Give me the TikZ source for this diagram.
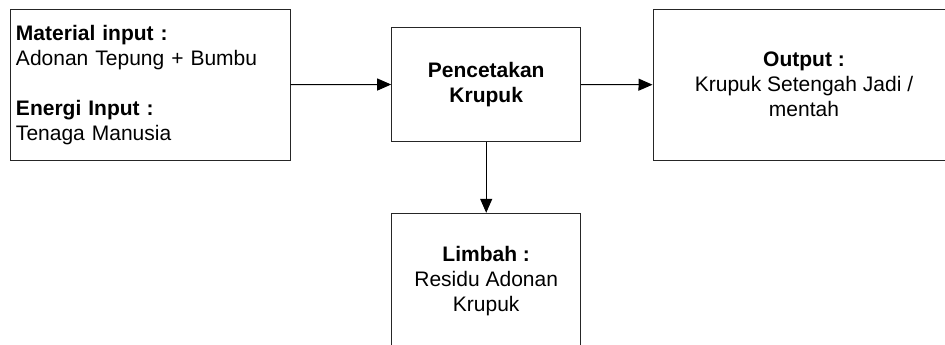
\documentclass[tikz,border=0pt]{standalone}
\usepackage{fontspec}
\setmainfont{Liberation Sans}
\usetikzlibrary{arrows.meta}
\begin{document}
\begin{tikzpicture}[x=1pt,y=-1pt,
  box/.style={draw=black!85, line width=1pt, rectangle, inner sep=0pt,
    font=\fontsize{21}{25}\selectfont},
  arr/.style={draw=black, line width=1pt, -{Triangle[length=14pt,width=12pt]}}]
\useasboundingbox (0,0) rectangle (945,345);
\clip (0,0) rectangle (945,345);
\fill[white] (0,0) rectangle (945,345);
\node[box, minimum width=280, minimum height=151, text width=268, align=left] (in) at (150,84.7)
  {\textbf{Material input :}\\Adonan Tepung + Bumbu\\[25pt]\textbf{Energi Input :}\\Tenaga Manusia};
\node[box, minimum width=189, minimum height=113, align=center] (proc) at (486.2,84.5)
  {\textbf{Pencetakan}\\\textbf{Krupuk}};
\node[box, minimum width=302, minimum height=151, align=center] (out) at (804,84.7)
  {\textbf{Output :}\\Krupuk Setengah Jadi /\\mentah};
\node[box, minimum width=189, minimum height=136, align=center] (waste) at (486.2,281.3)
  {\textbf{Limbah :}\\Residu Adonan\\Krupuk};
\draw[arr] (in.east) -- (proc.west);
\draw[arr] (proc.east) -- (out.west);
\draw[arr] (proc.south) -- (waste.north);
\end{tikzpicture}
\end{document}
